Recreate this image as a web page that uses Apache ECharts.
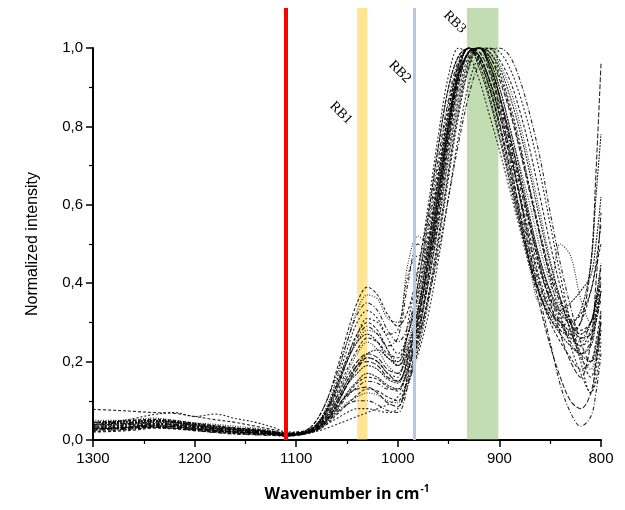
<!DOCTYPE html>
<html>
<head>
<meta charset="utf-8">
<script src="https://cdn.jsdelivr.net/npm/echarts@6/dist/echarts.min.js"></script>
<style>html,body{margin:0;padding:0;background:#fff;}#c{width:625px;height:510px;}</style>
</head>
<body>
<div id="c"></div>
<script>
const wavenumbers = [1300,1280,1260,1240,1220,1200,1180,1160,1140,1120,1110,1100,1090,1080,1070,1060,1050,1040,1030,1020,1010,1000,990,980,970,960,950,940,930,920,910,900,890,880,870,860,850,840,830,820,810,805,800];

const spectrum01 = [0.045,0.048,0.05,0.052,0.047,0.04,0.035,0.03,0.028,0.02,0.015, 0.018,0.025,0.05,0.1,0.18,0.27,0.35,0.39,0.37,0.32,0.29, 0.33,0.44,0.58,0.75,0.9,0.98,1.0,0.96,0.88,0.78, 0.67,0.56,0.45,0.37,0.31,0.28,0.27,0.3,0.38,0.45,0.55];
const spectrum02 = [0.035,0.038,0.04,0.042,0.04,0.035,0.03,0.026,0.024,0.018,0.014, 0.016,0.022,0.04,0.08,0.15,0.23,0.3,0.33,0.31,0.26,0.22, 0.27,0.38,0.53,0.7,0.86,0.96,1.0,0.98,0.92,0.83, 0.73,0.62,0.51,0.41,0.34,0.3,0.26,0.24,0.28,0.33,0.4];
const spectrum03 = [0.03,0.032,0.035,0.04,0.038,0.032,0.028,0.025,0.02,0.016,0.012, 0.014,0.02,0.035,0.07,0.13,0.2,0.26,0.29,0.27,0.24,0.26, 0.4,0.5,0.48,0.6,0.78,0.93,0.99,1.0,0.95,0.86, 0.76,0.65,0.54,0.44,0.36,0.3,0.25,0.22,0.25,0.3,0.36];
const spectrum04 = [0.04,0.04,0.042,0.045,0.043,0.036,0.03,0.025,0.022,0.017,0.013, 0.015,0.02,0.03,0.06,0.11,0.17,0.22,0.25,0.23,0.19,0.17, 0.22,0.32,0.46,0.63,0.8,0.93,0.99,1.0,0.97,0.9, 0.8,0.7,0.6,0.49,0.4,0.34,0.3,0.27,0.3,0.36,0.45];
const spectrum05 = [0.025,0.028,0.03,0.033,0.03,0.026,0.022,0.02,0.018,0.014,0.012, 0.014,0.018,0.028,0.05,0.09,0.14,0.18,0.21,0.2,0.17,0.15, 0.2,0.29,0.42,0.58,0.76,0.91,0.99,1.0,0.98,0.92, 0.84,0.74,0.63,0.52,0.42,0.35,0.3,0.26,0.27,0.32,0.38];
const spectrum06 = [0.045,0.045,0.046,0.05,0.048,0.042,0.036,0.03,0.025,0.02,0.016, 0.017,0.02,0.03,0.05,0.08,0.12,0.15,0.17,0.16,0.14,0.13, 0.19,0.28,0.4,0.55,0.72,0.87,0.97,1.0,0.99,0.95, 0.88,0.79,0.68,0.56,0.45,0.36,0.28,0.22,0.2,0.24,0.3];
const spectrum07 = [0.02,0.022,0.025,0.03,0.028,0.024,0.02,0.016,0.014,0.012,0.01, 0.012,0.016,0.024,0.04,0.065,0.09,0.115,0.13,0.125,0.11,0.1, 0.16,0.25,0.37,0.52,0.69,0.85,0.96,1.0,1.0,0.97, 0.92,0.84,0.74,0.62,0.5,0.39,0.3,0.22,0.16,0.2,0.28];
const spectrum08 = [0.03,0.03,0.033,0.036,0.034,0.028,0.022,0.018,0.016,0.014,0.012, 0.013,0.016,0.022,0.03,0.04,0.05,0.06,0.07,0.08,0.09,0.11, 0.15,0.22,0.32,0.46,0.62,0.78,0.91,0.98,1.0,0.99, 0.95,0.88,0.79,0.68,0.55,0.42,0.3,0.2,0.12,0.15,0.25];
const spectrum09 = [0.035,0.036,0.04,0.043,0.04,0.034,0.028,0.022,0.02,0.016,0.013, 0.014,0.018,0.026,0.045,0.07,0.09,0.1,0.1,0.09,0.075,0.07, 0.14,0.26,0.42,0.6,0.78,0.92,0.99,1.0,0.96,0.88, 0.76,0.62,0.48,0.36,0.25,0.14,0.07,0.035,0.06,0.12,0.22];
const spectrum10 = [0.05,0.05,0.052,0.056,0.05,0.044,0.04,0.035,0.03,0.022,0.016, 0.018,0.022,0.04,0.08,0.14,0.2,0.25,0.28,0.27,0.23,0.2, 0.25,0.36,0.5,0.67,0.83,0.95,1.0,0.97,0.9,0.8, 0.68,0.56,0.44,0.35,0.38,0.5,0.47,0.36,0.3,0.34,0.42];
const spectrum11 = [0.03,0.03,0.032,0.035,0.033,0.028,0.024,0.02,0.017,0.014,0.012, 0.014,0.02,0.035,0.065,0.11,0.16,0.2,0.22,0.21,0.18,0.17, 0.23,0.33,0.47,0.64,0.81,0.94,1.0,0.99,0.94,0.85, 0.74,0.62,0.5,0.4,0.33,0.3,0.28,0.3,0.45,0.68,0.96];
const spectrum12 = [0.04,0.042,0.044,0.048,0.045,0.038,0.032,0.027,0.023,0.018,0.014, 0.016,0.02,0.03,0.055,0.095,0.14,0.17,0.19,0.18,0.155,0.145, 0.21,0.31,0.44,0.61,0.79,0.93,0.99,1.0,0.97,0.9, 0.8,0.69,0.57,0.46,0.38,0.33,0.3,0.33,0.45,0.62,0.78];
const spectrum13 = [0.078,0.076,0.073,0.07,0.068,0.06,0.052,0.045,0.035,0.025,0.018, 0.02,0.025,0.04,0.07,0.12,0.18,0.23,0.26,0.25,0.22,0.21, 0.27,0.37,0.51,0.68,0.84,0.96,1.0,0.98,0.92,0.84, 0.74,0.63,0.52,0.43,0.36,0.32,0.3,0.32,0.38,0.44,0.5];
const spectrum14 = [0.04,0.045,0.055,0.065,0.07,0.06,0.066,0.055,0.045,0.03,0.02, 0.02,0.024,0.035,0.06,0.1,0.15,0.19,0.21,0.2,0.17,0.16, 0.3,0.43,0.6,0.78,0.93,1.0,0.98,0.92,0.83,0.74, 0.64,0.54,0.44,0.37,0.32,0.3,0.29,0.27,0.3,0.35,0.42];
const spectrum15 = [0.025,0.026,0.028,0.032,0.03,0.024,0.019,0.015,0.013,0.011,0.01, 0.012,0.016,0.025,0.045,0.075,0.11,0.135,0.15,0.145,0.13,0.13, 0.18,0.26,0.36,0.48,0.62,0.76,0.88,0.96,0.995,1.0, 0.98,0.92,0.83,0.72,0.58,0.45,0.34,0.25,0.2,0.22,0.3];
const spectrum16 = [0.035,0.037,0.04,0.044,0.042,0.036,0.03,0.026,0.022,0.017,0.013, 0.015,0.02,0.04,0.085,0.16,0.25,0.33,0.37,0.36,0.31,0.3, 0.45,0.52,0.5,0.63,0.8,0.94,1.0,0.98,0.91,0.81, 0.7,0.58,0.47,0.38,0.32,0.28,0.26,0.25,0.3,0.36,0.45];
const spectrum17 = [0.028,0.03,0.034,0.038,0.036,0.03,0.025,0.021,0.018,0.015,0.012, 0.014,0.018,0.03,0.055,0.085,0.115,0.13,0.135,0.12,0.095,0.085, 0.17,0.3,0.46,0.64,0.81,0.95,1.0,0.98,0.92,0.83, 0.72,0.58,0.45,0.34,0.24,0.16,0.1,0.08,0.12,0.2,0.32];
const spectrum18 = [0.045,0.046,0.048,0.05,0.046,0.04,0.034,0.03,0.026,0.02,0.015, 0.017,0.02,0.028,0.05,0.09,0.14,0.19,0.22,0.23,0.21,0.19, 0.24,0.34,0.49,0.66,0.82,0.94,0.99,1.0,0.96,0.88, 0.78,0.67,0.56,0.46,0.38,0.33,0.35,0.38,0.42,0.5,0.62];
const spectrum19 = [0.022,0.024,0.028,0.032,0.03,0.025,0.02,0.017,0.015,0.012,0.01, 0.012,0.018,0.035,0.075,0.14,0.21,0.27,0.3,0.28,0.23,0.19, 0.22,0.33,0.49,0.67,0.84,0.96,1.0,0.97,0.9,0.8, 0.69,0.57,0.46,0.37,0.3,0.25,0.21,0.18,0.2,0.25,0.33];
const spectrum20 = [0.032,0.034,0.036,0.04,0.038,0.032,0.026,0.022,0.019,0.015,0.012, 0.014,0.018,0.025,0.04,0.055,0.07,0.08,0.08,0.075,0.07,0.08, 0.14,0.23,0.35,0.5,0.67,0.83,0.95,1.0,0.99,0.94, 0.86,0.76,0.64,0.52,0.41,0.32,0.24,0.17,0.12,0.18,0.28];
const spectrum21 = [0.04,0.042,0.045,0.048,0.045,0.038,0.032,0.028,0.024,0.018,0.014, 0.016,0.024,0.05,0.1,0.17,0.25,0.32,0.35,0.33,0.28,0.25, 0.29,0.4,0.55,0.72,0.87,0.97,1.0,0.97,0.9,0.81, 0.7,0.59,0.48,0.39,0.33,0.29,0.27,0.26,0.3,0.36,0.44];
const spectrum22 = [0.03,0.03,0.032,0.036,0.034,0.03,0.025,0.02,0.017,0.014,0.011, 0.013,0.017,0.026,0.045,0.07,0.095,0.11,0.12,0.115,0.1,0.095, 0.15,0.24,0.36,0.51,0.68,0.84,0.95,1.0,1.0,0.96, 0.9,0.81,0.7,0.58,0.46,0.36,0.28,0.21,0.18,0.22,0.3];
const spectrum23 = [0.038,0.04,0.043,0.046,0.044,0.037,0.031,0.026,0.022,0.017,0.013, 0.015,0.02,0.032,0.06,0.1,0.15,0.19,0.2,0.19,0.16,0.15, 0.21,0.31,0.45,0.62,0.8,0.93,0.99,1.0,0.96,0.88, 0.78,0.67,0.55,0.44,0.35,0.27,0.2,0.16,0.25,0.4,0.58];
const spectrum24 = [0.028,0.03,0.033,0.036,0.034,0.029,0.024,0.02,0.018,0.014,0.011, 0.013,0.02,0.038,0.075,0.13,0.2,0.25,0.27,0.25,0.21,0.2, 0.27,0.4,0.57,0.75,0.9,0.98,1.0,0.95,0.87,0.77, 0.66,0.55,0.45,0.37,0.31,0.27,0.24,0.22,0.24,0.3,0.38];
const spectrum25 = [0.045,0.047,0.05,0.053,0.05,0.043,0.037,0.031,0.026,0.02,0.015, 0.016,0.02,0.03,0.05,0.08,0.115,0.145,0.16,0.155,0.135,0.125, 0.18,0.27,0.4,0.56,0.74,0.89,0.98,1.0,0.98,0.93, 0.85,0.75,0.64,0.53,0.43,0.36,0.31,0.28,0.3,0.35,0.4];
const spectrum26 = [0.032,0.034,0.037,0.041,0.039,0.033,0.028,0.024,0.02,0.016,0.012, 0.014,0.02,0.038,0.078,0.14,0.21,0.27,0.31,0.3,0.27,0.28, 0.42,0.47,0.47,0.6,0.77,0.91,0.99,1.0,0.95,0.87, 0.77,0.66,0.55,0.45,0.37,0.31,0.27,0.24,0.26,0.31,0.38];

const spectra = [spectrum01,spectrum02,spectrum03,spectrum04,spectrum05,spectrum06,spectrum07,spectrum08,spectrum09,spectrum10,
                 spectrum11,spectrum12,spectrum13,spectrum14,spectrum15,spectrum16,spectrum17,spectrum18,spectrum19,spectrum20,
                 spectrum21,spectrum22,spectrum23,spectrum24,spectrum25,spectrum26];

const xTicks = [1300,1200,1100,1000,900,800];
const yTicks = [0.0,0.2,0.4,0.6,0.8,1.0];
const redLineAt = 1110;
const rb1Band = [1040, 1030];
const rb2LineAt = 984;
const rb3Band = [932, 901];
const rbLabels = ['RB1','RB2','RB3'];
const rbLabelPos = [[1056, 0.834], [998, 0.939], [944, 1.066]];

const chart = echarts.init(document.getElementById('c'), null, {renderer:'canvas'});

const dashes = [[3,2],[2,2],[4,2,1,2],[1,1.5],[5,2],[2,1]];
const spectrumSeries = spectra.map((s, k) => ({
  type: 'line',
  xAxisIndex: 0, yAxisIndex: 0,
  data: wavenumbers.map((w, i) => [w, s[i]]),
  showSymbol: false,
  smooth: 0.35,
  silent: true,
  z: 2,
  lineStyle: { color: '#000', width: 1.1, opacity: 0.85, type: dashes[k % dashes.length] }
}));

const overlaySeries = {
  type: 'line',
  xAxisIndex: 1, yAxisIndex: 1,
  data: [],
  silent: true,
  z: 10,
  markArea: {
    silent: true,
    data: [
      [{ xAxis: rb1Band[0], itemStyle: { color: 'rgba(255,192,0,0.42)' } }, { xAxis: rb1Band[1] }],
      [{ xAxis: rb3Band[0], itemStyle: { color: 'rgba(112,173,71,0.42)' } }, { xAxis: rb3Band[1] }]
    ]
  },
  markLine: {
    silent: true,
    symbol: ['none','none'],
    label: { show: false },
    data: [
      { xAxis: redLineAt, lineStyle: { color: '#ff0000', width: 4, type: 'solid' } },
      { xAxis: rb2LineAt, lineStyle: { color: '#b4c7e7', width: 3, type: 'solid' } }
    ]
  },
  markPoint: {
    silent: true,
    symbol: 'rect',
    symbolSize: 1,
    itemStyle: { color: 'rgba(0,0,0,0)' },
    label: {
      show: true, position: 'inside', rotate: -45,
      color: '#000', fontFamily: 'Liberation Serif', fontSize: 14,
      formatter: p => p.name
    },
    data: rbLabels.map((n, i) => ({ name: n, coord: rbLabelPos[i] }))
  }
};

const fmtY = v => v.toFixed(1).replace('.', ',');

chart.setOption({
  animation: false,
  backgroundColor: '#fff',
  grid: [
    { left: 93, right: 24, top: 48, bottom: 70 },
    { left: 93, right: 24, top: 8, bottom: 70 }
  ],
  xAxis: [
    {
      gridIndex: 0, type: 'value', inverse: true, min: 800, max: 1300, interval: 100,
      name: '{a|Wavenumber in cm}{b|-1}', nameLocation: 'middle', nameGap: 44,
      nameTextStyle: {
        rich: {
          a: { fontFamily: 'Open Sans', fontWeight: 'bold', fontSize: 16, color: '#000', verticalAlign: 'bottom' },
          b: { fontFamily: 'Open Sans', fontWeight: 'bold', fontSize: 10, color: '#000', verticalAlign: 'bottom', padding: [0,0,8,1] }
        }
      },
      axisLine: { show: true, onZero: false, lineStyle: { color: '#000', width: 2 } },
      axisTick: { show: true, length: 7, lineStyle: { color: '#000', width: 1.5 } },
      minorTick: { show: true, splitNumber: 2, length: 4, lineStyle: { color: '#000', width: 1.2 } },
      splitLine: { show: false },
      axisLabel: { color: '#000', fontFamily: 'Liberation Sans', fontSize: 15, margin: 11,
        formatter: v => xTicks.includes(v) ? String(v) : '' }
    },
    {
      gridIndex: 1, type: 'value', inverse: true, min: 800, max: 1300, show: false
    }
  ],
  yAxis: [
    {
      gridIndex: 0, type: 'value', min: 0, max: 1, interval: 0.2,
      name: 'Normalized intensity', nameLocation: 'middle', nameGap: 52,
      nameTextStyle: { color: '#000', fontFamily: 'Liberation Sans', fontSize: 16 },
      axisLine: { show: true, onZero: false, lineStyle: { color: '#000', width: 2 } },
      axisTick: { show: true, length: 7, lineStyle: { color: '#000', width: 1.5 } },
      minorTick: { show: true, splitNumber: 2, length: 4, lineStyle: { color: '#000', width: 1.2 } },
      splitLine: { show: false },
      axisLabel: { color: '#000', fontFamily: 'Liberation Sans', fontSize: 15, margin: 10,
        formatter: v => yTicks.some(t => Math.abs(t - v) < 1e-9) ? fmtY(v) : '' }
    },
    {
      gridIndex: 1, type: 'value', min: 0, max: 1.102, show: false
    }
  ],
  series: [...spectrumSeries, overlaySeries]
});
</script>
</body>
</html>
